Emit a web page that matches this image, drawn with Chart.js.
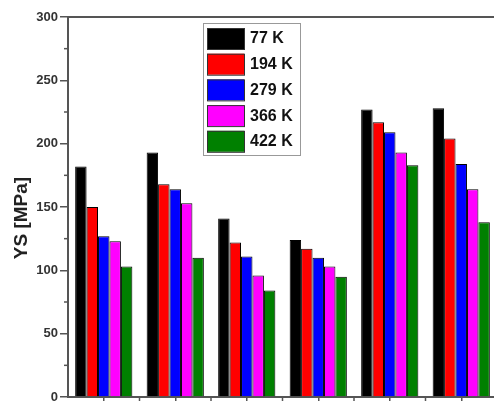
<!DOCTYPE html>
<html>
<head>
<meta charset="utf-8">
<script src="https://cdn.jsdelivr.net/npm/chart.js@4.4.0/dist/chart.umd.min.js"></script>
<style>
  html, body { margin: 0; padding: 0; background: #fff; overflow: hidden; }
  #wrap { width: 500px; height: 403px; }
</style>
</head>
<body>
<div id="wrap"><canvas id="ysChart" width="500" height="403"></canvas></div>
<script>
// Dados
const categories = ['1', '2', '3', '4', '5', '6'];
const temps = ['77 K', '194 K', '279 K', '366 K', '422 K'];
const colors = ['#000000', '#ff0000', '#0000ff', '#ff00ff', '#008000'];
const ys77 = [182, 193, 141, 124, 227, 228];
const ys194 = [150, 168, 122, 117, 217, 204];
const ys279 = [127, 164, 111, 110, 209, 184];
const ys366 = [123, 153, 96, 103, 193, 164];
const ys422 = [103, 110, 84, 95, 183, 138];
const yTicks = [0, 50, 100, 150, 200, 250, 300];
const yMinor = [25, 75, 125, 175, 225, 275];
const yTitle = 'YS [MPa]';

const series = [ys77, ys194, ys279, ys366, ys422];
const axisColor = '#555';
const fontFamily = '"Liberation Sans", Arial, sans-serif';

// Ticks menores, linha superior, título do eixo e legenda em caixa
const extras = {
    id: 'extras',
    afterDraw(chart) {
        const ctx = chart.ctx;
        const area = chart.chartArea;
        const y = chart.scales.y;
        const x = chart.scales.x;
        ctx.save();
        ctx.strokeStyle = axisColor;
        ctx.lineWidth = 1.5;
        yMinor.forEach(v => {
            const py = y.getPixelForValue(v);
            ctx.beginPath();
            ctx.moveTo(area.left - 4, py);
            ctx.lineTo(area.left, py);
            ctx.stroke();
        });
        for (let i = 1; i < categories.length; i++) {
            const px = (x.getPixelForValue(i - 1) + x.getPixelForValue(i)) / 2;
            ctx.beginPath();
            ctx.moveTo(px, area.bottom);
            ctx.lineTo(px, area.bottom + 4);
            ctx.stroke();
        }
        // linha do topo
        ctx.lineWidth = 2;
        ctx.beginPath();
        ctx.moveTo(area.left, area.top);
        ctx.lineTo(chart.width, area.top);
        ctx.stroke();

        // título do eixo Y
        ctx.save();
        ctx.translate(22, 218);
        ctx.rotate(-Math.PI / 2);
        ctx.font = 'bold 19px ' + fontFamily;
        ctx.fillStyle = '#222';
        ctx.textAlign = 'center';
        ctx.textBaseline = 'middle';
        ctx.fillText(yTitle, 0, 0);
        ctx.restore();

        // legenda
        const lx = 203, ly = 23, lw = 97, lh = 132;
        ctx.fillStyle = '#fff';
        ctx.fillRect(lx, ly, lw, lh);
        ctx.strokeStyle = '#999';
        ctx.lineWidth = 1;
        ctx.strokeRect(lx + 0.5, ly + 0.5, lw, lh);
        ctx.font = 'bold 16px ' + fontFamily;
        ctx.textBaseline = 'middle';
        chart.data.datasets.forEach((ds, i) => {
            const sy = 28 + i * 25.7;
            ctx.fillStyle = ds.backgroundColor;
            ctx.fillRect(207, sy, 37, 21);
            ctx.strokeStyle = '#333';
            ctx.strokeRect(207.5, sy + 0.5, 37, 21);
            ctx.fillStyle = '#111';
            ctx.fillText(ds.label, 250, sy + 11);
        });
        ctx.restore();
    }
};

new Chart(document.getElementById('ysChart').getContext('2d'), {
    type: 'bar',
    data: {
        labels: categories,
        datasets: temps.map((t, i) => ({
            label: t,
            data: series[i],
            backgroundColor: colors[i],
            borderColor: '#000',
            borderWidth: 1,
            categoryPercentage: 0.8,
            barPercentage: 1.0
        }))
    },
    options: {
        responsive: false,
        animation: false,
        layout: { padding: { top: 17, right: 3, left: 0, bottom: 0 } },
        plugins: { legend: { display: false }, tooltip: { enabled: false } },
        scales: {
            x: {
                grid: { display: true, drawOnChartArea: false, offset: false, color: axisColor, tickLength: 4, lineWidth: 1.5 },
                border: { color: axisColor, width: 2 },
                ticks: { display: false },
                afterFit: s => { s.height = 6; }
            },
            y: {
                min: 0,
                max: 300,
                afterBuildTicks: s => { s.ticks = yTicks.map(v => ({ value: v })); },
                grid: { drawOnChartArea: false, color: axisColor, tickLength: 8, lineWidth: 1.5 },
                border: { color: axisColor, width: 2 },
                ticks: {
                    padding: 2,
                    color: '#333',
                    font: { family: fontFamily, size: 13, weight: 'bold' }
                },
                afterFit: s => {
                    s.width = 68;
                    s.paddingTop = 0;
                    s.paddingBottom = 0;
                }
            }
        }
    },
    plugins: [extras]
});
</script>
</body>
</html>
